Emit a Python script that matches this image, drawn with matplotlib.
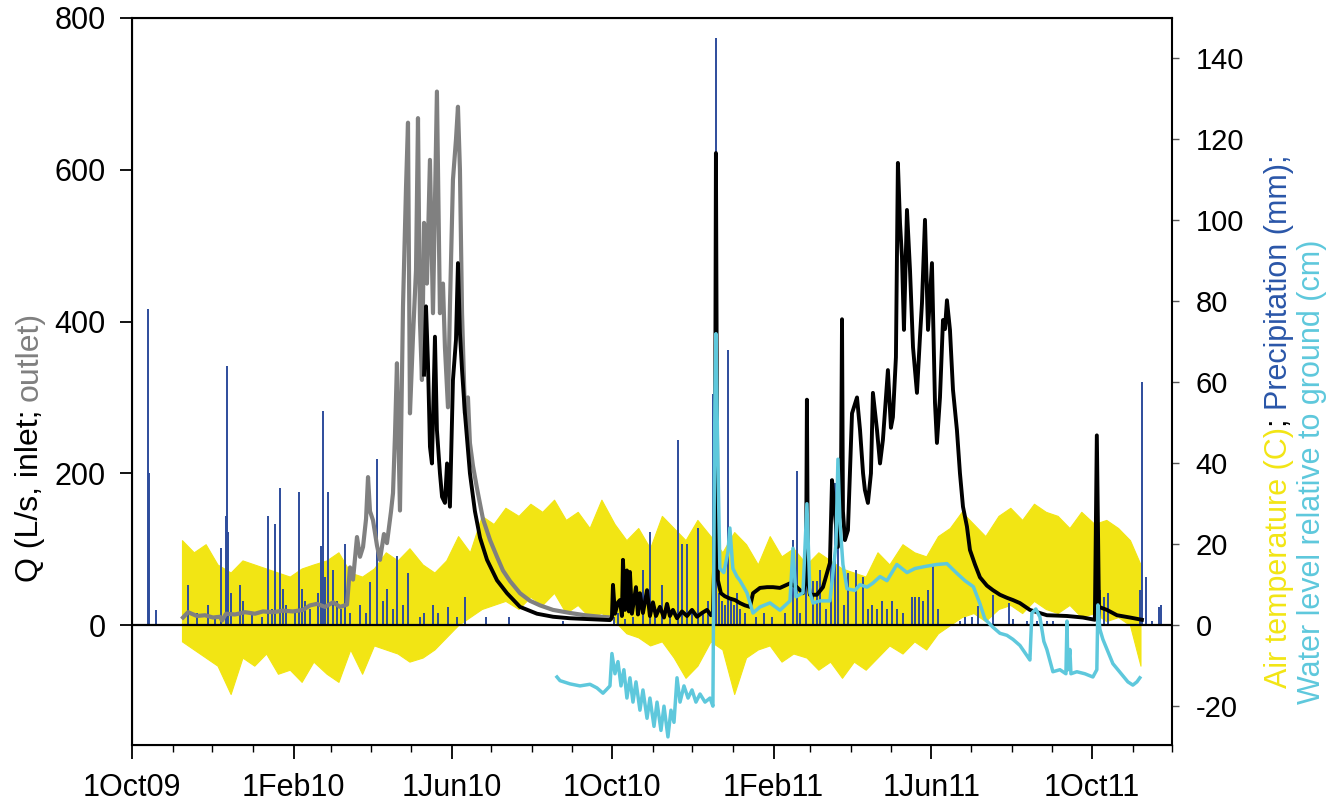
import numpy as np
import matplotlib
matplotlib.use('Agg')
import matplotlib.pyplot as plt

plt.rcParams['font.family'] = ['Liberation Sans', 'DejaVu Sans']
plt.rcParams['axes.unicode_minus'] = False

# all x values are days since 1 Oct 2009

# air temperature (C), upper and lower envelope of the daily swing
temp_day = [38, 47, 56, 65, 75, 84, 93, 102, 111, 120, 129, 138, 148, 157, 166, 175, 184, 193, 202, 211,
            221, 230, 239, 248, 257, 266, 275, 284, 294, 303, 312, 321, 330, 339, 348, 357, 367, 376, 385, 394,
            403, 412, 421, 430, 440, 449, 458, 467, 476, 485, 494, 503, 513, 522, 531, 540, 549, 558, 567, 576,
            586, 595, 604, 613, 622, 631, 640, 649, 659, 668, 677, 686, 695, 704, 713, 722, 732, 741, 750, 759,
            767]
temp_hi = [21, 18, 20, 15, 13, 16, 15, 14, 13, 12, 14, 15, 16, 18, 13, 12, 14, 18, 16, 19,
           15, 13, 16, 22, 18, 27, 25, 29, 27, 30, 28, 31, 26, 28, 24, 31, 25, 21, 24, 19,
           27, 24, 21, 26, 22, 18, 23, 20, 15, 22, 17, 19, 15, 18, 16, 14, 13, 12, 18, 15,
           20, 18, 17, 22, 24, 28, 25, 22, 27, 29, 26, 30, 28, 27, 24, 28, 25, 26, 24, 21,
           15]
temp_lo = [-4, -6, -8, -10, -17, -8, -10, -7, -12, -11, -14, -9, -12, -14, -6, -12, -5, -6, -7, -9,
           -8, -6, -3, 0, 2, 4, 5, 6, 4, 7, 5, 8, 3, 5, 2, 3, 1, -2, -3, -5,
           -4, -8, -13, -10, -4, -6, -17, -8, -6, -5, -9, -7, -8, -11, -9, -13, -9, -11, -8, -5,
           -7, -4, -6, -2, 0, 2, 3, 1, 4, 5, 3, 6, 4, 3, 5, 2, 3, 1, 2, 0,
           -10]

# precipitation (mm)
precip_day = [12.2, 12.9, 18.3, 42.6, 49.4, 57.8, 63.1, 67.7, 71.5, 72.2, 73.0, 75.3, 82.1, 84.4, 91.3,
              98.9, 103.4, 106.5, 108.7, 112.6, 114.8, 117.1, 124.0, 127.0, 129.3, 131.6, 135.4, 141.5,
              143.7, 145.3, 146.8, 149.1, 152.9, 155.9, 158.9, 162.0, 165.8, 173.4, 178.0, 181.0, 186.3,
              190.9, 193.9, 198.5, 201.5, 206.1, 209.9, 219.0, 222.1, 228.9, 232.7, 240.3, 247.2, 253.2,
              269.2, 286.7, 327.8, 366.6, 369.6, 374.9, 381.0, 388.6, 393.9, 397.7, 403.1, 409.1, 415.3,
              418.3, 422.1, 425.9, 430.4, 434.3, 438.0, 441.8, 444.1, 446.4, 448.7, 450.9, 453.2, 455.5,
              457.8, 460.1, 462.4, 466.2, 474.6, 480.6, 486.7, 496.6, 502.7, 505.7, 508.0, 512.6, 517.9,
              520.9, 523.2, 527.8, 531.6, 534.6, 536.9, 541.5, 544.5, 550.6, 556.0, 559.7, 562.8, 566.6,
              570.4, 574.2, 578.0, 581.7, 586.3, 593.0, 595.5, 598.5, 601.5, 605.4, 609.2, 613.0, 629.7,
              633.5, 638.8, 643.4, 654.8, 667.0, 670.0, 680.6, 688.2, 695.8, 700.4, 711.8, 736.1, 739.1,
              742.2, 766.5, 768.1, 771.1, 775.6, 781.0, 782.5]
precip_mm = [78, 37.5, 3.7, 10, 3, 5, 2, 19, 27, 64, 23, 8, 10, 6, 3,
             2, 27, 4, 25, 34, 9, 5, 3, 33, 9, 6, 4, 8,
             19.5, 53, 12, 33, 13.6, 6, 4, 20, 3, 5, 3, 10.6, 41,
             6, 9, 4, 17, 5, 13, 2, 3, 5, 3, 4.5, 2, 7,
             2, 2, 1, 2, 3, 1.5, 2, 13.6, 23, 3, 10, 2, 45.7,
             20, 20, 4, 24, 3, 6, 57, 145, 8, 6, 5, 68, 7,
             5, 8, 4, 3, 2, 3, 2, 3, 21, 38, 3, 28, 11,
             11, 13.6, 4, 36, 35, 38, 5, 13, 13.6, 12, 4, 5, 4,
             6, 4, 6, 4, 3, 7, 7, 7, 6, 8.6, 15, 4, 1,
             2, 2, 4.7, 7.4, 5.4, 1.5, 1, 1, 1, 1, 1, 8.6, 7,
             8, 8.6, 60, 12, 1, 4.5, 5]

# discharge at the outlet (L/s)
q_out_day = [38.8, 42.6, 49.4, 55.5, 61.6, 66.9, 68.4, 71.5, 78.3, 85.9, 93.5, 99.6, 107.2, 114.8, 122.4,
             130.0, 135.4, 140.7, 146.8, 152.9, 158.2, 163.5, 165.8, 168.1, 171.1, 173.4, 175.7, 178.0,
             179.5, 181.0, 183.3, 186.3, 188.6, 191.6, 193.9, 197.0, 198.5, 200.0, 201.5, 203.8, 206.1,
             208.4, 209.9, 211.4, 213.7, 216.0, 217.5, 219.0, 220.5, 222.1, 224.3, 226.6, 228.9, 231.9,
             234.2, 236.5, 238.0, 240.3, 241.8, 244.1, 246.4, 247.9, 249.4, 251.0, 253.2, 255.5, 257.0,
             259.3, 262.4, 266.9, 272.3, 277.6, 282.1, 287.5, 295.1, 302.7, 310.3, 320.2, 333.1, 344.5,
             355.9, 365.0]
q_out = [10, 17, 12, 13, 10, 11, 6, 15, 14, 17, 15, 18, 17, 19, 18,
         20, 26, 28, 24, 30, 24, 27, 76, 60, 116, 90, 103, 140,
         195, 150, 138, 105, 86, 120, 108, 150, 174, 250, 345, 151, 420,
         577, 662, 279, 380, 468, 668, 400, 323, 530, 450, 613, 411, 703,
         411, 450, 366, 287, 420, 587, 640, 683, 600, 411, 279, 300, 240,
         210, 180, 140, 112, 90, 72, 58, 42, 32, 26, 20, 16, 13,
         11, 10]

# discharge at the inlet (L/s)
q_in_day = [222.1, 223.6, 225.1, 226.6, 228.1, 230.4, 231.9, 234.2, 235.8, 238.0, 239.6, 241.8, 244.1,
            246.4, 247.9, 249.4, 251.0, 253.2, 257.0, 260.8, 264.7, 270.0, 277.6, 285.2, 295.1, 308.0,
            320.2, 333.1, 346.0, 363.5, 365.0, 365.8, 367.3, 369.6, 371.1, 372.6, 373.4, 374.9, 376.4,
            377.9, 378.7, 380.2, 383.3, 384.8, 386.3, 388.6, 391.7, 393.9, 396.2, 398.5, 401.5, 404.6,
            406.9, 409.1, 411.4, 414.5, 418.3, 422.1, 425.9, 429.7, 433.5, 437.3, 440.3, 441.8, 443.3,
            444.1, 444.8, 445.6, 447.9, 450.9, 454.7, 458.6, 462.4, 466.2, 470.0, 472.3, 477.6, 483.0,
            487.5, 492.8, 500.4, 505.7, 510.3, 512.6, 513.3, 514.1, 515.6, 520.9, 525.5, 530.8, 532.4,
            534.6, 536.9, 539.2, 540.0, 540.7, 542.2, 544.5, 547.6, 551.4, 553.7, 556.0, 557.4, 559.7,
            562.0, 563.5, 566.6, 568.9, 571.1, 574.9, 577.2, 578.7, 581.0, 582.5, 584.1, 585.6, 587.1,
            589.4, 591.7, 594.0, 597.0, 599.3, 600.8, 603.1, 605.4, 608.4, 610.7, 612.2, 614.5, 616.8,
            618.3, 619.8, 622.1, 624.4, 627.4, 629.7, 632.0, 635.0, 637.3, 641.1, 644.9, 650.2, 654.8,
            660.1, 665.4, 670.0, 675.3, 682.9, 695.8, 711.1, 723.2, 732.3, 733.8, 735.4, 741.5, 749.1,
            759.0, 768.1]
q_in = [330, 420, 345, 235, 213, 380, 257, 200, 169, 161, 213, 156, 323,
        376, 477, 385, 336, 279, 200, 150, 115, 86, 59, 42, 24, 15,
        11, 9, 8, 6.6, 10, 53, 15, 30, 33, 12, 86, 20, 72,
        18, 70, 15, 50, 14, 42, 16, 46, 12, 30, 12, 24, 10,
        28, 12, 20, 9, 18, 12, 20, 11, 16, 20, 13, 15, 120,
        622, 300, 59, 42, 38, 35, 33, 29, 26, 24, 42, 49, 50,
        50, 49, 55, 50, 42, 60, 297, 60, 40, 40, 50, 82, 191,
        147, 103, 180, 403, 150, 112, 125, 279, 300, 257, 200, 178, 161,
        200, 306, 257, 213, 244, 336, 260, 274, 353, 609, 530, 485, 389,
        547, 468, 366, 306, 380, 424, 534, 389, 477, 293, 240, 300, 402,
        390, 428, 389, 310, 257, 200, 156, 130, 99, 80, 63, 52, 46,
        40, 36, 33, 29, 20, 13, 12, 10, 7, 250, 24, 20, 13,
        10, 7]

# water level relative to ground (cm)
wl_day = [323.2, 325.5, 333.1, 340.7, 348.3, 353.6, 358.2, 361.2, 363.5, 365.0, 367.3, 369.6, 371.9,
          374.1, 376.4, 378.7, 381.0, 383.3, 386.3, 388.6, 391.7, 393.9, 397.0, 399.3, 402.3, 404.6,
          407.6, 409.9, 412.2, 414.5, 416.8, 419.8, 422.9, 425.9, 428.9, 432.0, 435.8, 439.6, 441.8,
          442.6, 443.3, 444.1, 445.6, 447.1, 450.1, 453.2, 454.7, 457.0, 460.1, 462.4, 467.7, 472.3,
          477.6, 485.2, 492.8, 500.4, 502.7, 505.0, 510.3, 513.3, 515.6, 517.9, 523.2, 530.8, 535.4,
          536.9, 538.5, 540.7, 543.8, 549.8, 553.7, 559.0, 563.5, 568.9, 574.2, 581.7, 589.4, 595.5,
          603.1, 612.2, 619.8, 627.4, 633.5, 639.9, 644.9, 648.7, 654.8, 660.1, 665.4, 670.0, 675.3,
          680.6, 682.9, 684.4, 687.4, 690.5, 693.5, 695.8, 700.4, 705.7, 710.3, 711.1, 711.8, 713.3,
          714.1, 718.6, 724.7, 730.8, 733.8, 734.6, 736.1, 738.4, 742.2, 746.0, 749.8, 753.6, 757.4,
          761.2, 764.3, 766.5]
wl_cm = [-12.8, -13.7, -14.5, -15, -14.6, -15.5, -16.8, -15.8, -15, -7, -12, -9, -15,
         -11, -18, -13, -19, -14, -21, -16, -23, -18, -25, -19, -26, -20,
         -27.6, -21, -24, -13, -19, -15, -18, -16, -19, -17, -19, -18, -20,
         20, 55, 72, 40, 14, 13, 18, 24, 14, 12, 11, 8, 3,
         4.5, 5.5, 3.7, 6, 19, 7, 8, 30, 8, 5.5, 6, 6, 20,
         41, 25, 15, 9, 8.6, 10, 9.4, 10.4, 12, 11, 15, 13, 14,
         14.5, 15, 15.2, 12.8, 11, 9.5, 5.3, 1.5, -0.5, -2, -2.5, -3.5, -5,
         -7.5, -8.6, 3, 4, 2, -4, -6, -11.5, -11, -12, 1, -11, -6,
         -12, -11.5, -12, -12.8, -11, 5, -1, -3.5, -6.5, -9.5, -11, -12.5, -14,
         -14.8, -14, -13]

tick_labels = ['1Oct09', '1Feb10', '1Jun10', '1Oct10', '1Feb11', '1Jun11', '1Oct11']

yellow = '#f2e514'
blue = '#2d4c9c'
cyan = '#5ec8dc'
gray = '#808080'

fig = plt.figure(figsize=(13.43, 8.09), dpi=100)
ax = fig.add_axes([0.0983, 0.0791, 0.7744, 0.8987])
ax_r = ax.twinx()
ax_w = ax.twinx()
# temperature and rain at the bottom, discharge above, water level on top
ax_r.set_zorder(1)
ax.set_zorder(2)
ax_w.set_zorder(3)
for a in (ax, ax_r, ax_w):
    a.patch.set_visible(False)

ax_r.fill_between(temp_day, temp_lo, temp_hi, color=yellow, lw=0.8, edgecolor=yellow)
ax_r.vlines(precip_day, 0, precip_mm, color=blue, lw=1.4)

ax.axhline(0, color='black', lw=1.6)
ax.plot(q_out_day, q_out, color=gray, lw=3)
ax.plot(q_in_day, q_in, color='black', lw=2.8)

ax_w.plot(wl_day, wl_cm, color=cyan, lw=2.5)

ax.set_xlim(0, 791)
ax.set_ylim(-158, 800)
ax_r.set_ylim(-29.6, 150)
ax_w.set_ylim(-29.6, 150)

# month ticks
months = np.arange('2009-10', '2011-12', dtype='datetime64[M]')
month_day = (months.astype('datetime64[D]') - np.datetime64('2009-10-01')).astype(int)
ax.set_xticks(month_day[::4])
ax.set_xticklabels(tick_labels)
ax.set_xticks(list(month_day) + [791], minor=True)
ax.tick_params(axis='x', which='major', direction='out', length=10, width=1.3, labelsize=22, pad=10)
ax.tick_params(axis='x', which='minor', direction='out', length=5, width=1.0)

ax.set_yticks([0, 200, 400, 600, 800])
ax.tick_params(axis='y', direction='out', length=9, width=1.3, labelsize=22, pad=10)

ax_r.set_yticks(range(-20, 141, 20))
ax_r.tick_params(axis='y', direction='out', length=5, width=1.0, labelsize=21, pad=12, color='#555555')

ax_w.set_yticks([])
for s in ax_w.spines.values():
    s.set_visible(False)
for s in ax.spines.values():
    s.set_linewidth(1.5)
ax_r.spines['right'].set_color('#555555')
ax_r.spines['right'].set_linewidth(1.3)


def colored_label(x, y, parts, size):
    # rotated label built from pieces of different colour, bottom to top
    prev = fig.text(x, y, parts[0][0], color=parts[0][1], rotation=90,
                    ha='center', va='bottom', fontsize=size)
    for text, col in parts[1:]:
        prev = ax.annotate(text, xy=(0.5, 1), xycoords=prev, color=col, rotation=90,
                           ha='center', va='bottom', fontsize=size, annotation_clip=False)


colored_label(0.022, 0.28, [('Q (L/s, inlet; ', 'black'), ('outlet)', gray)], 23)
colored_label(0.952, 0.15, [('Air temperature (C)', yellow), ('; ', 'black'),
                            ('Precipitation (mm);', '#2a56a8')], 22)
colored_label(0.977, 0.13, [('Water level relative to ground (cm)', cyan)], 22)

fig.savefig('out.png', dpi=100)
